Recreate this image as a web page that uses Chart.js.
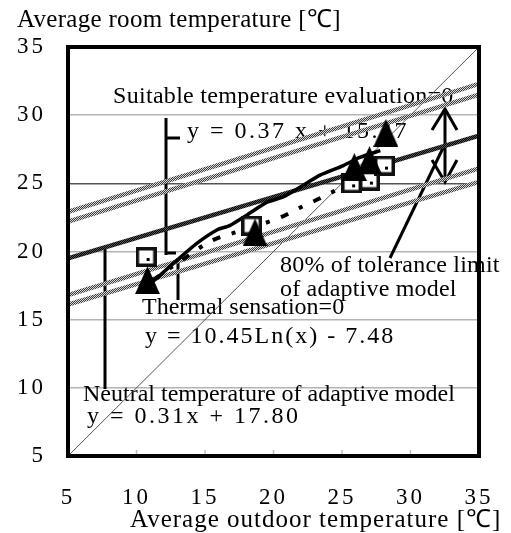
<!DOCTYPE html>
<html>
<head>
<meta charset="utf-8">
<script src="https://cdn.jsdelivr.net/npm/chart.js@4.4.1/dist/chart.umd.min.js"></script>
<style>
    html, body { margin: 0; padding: 0; background: #fff; }
</style>
</head>
<body>
<canvas id="myChart" width="511" height="533"></canvas>
<script>
// tick values on both axes
const xTicks = [5, 10, 15, 20, 25, 30, 35];
const yTicks = [5, 10, 15, 20, 25, 30, 35];

// reference lines
const diagonal = [[5, 5], [35, 35]];
const neutralLine = [[5, 19.5], [35, 28.5]];
const tolUpperOuter = [[5, 22.9], [35, 32.3]];
const tolUpperInner = [[5, 22.2], [35, 31.5]];
const tolLowerInner = [[5, 16.8], [35, 26.1]];
const tolLowerOuter = [[5, 16.1], [35, 25.1]];

// suitable temperature evaluation = 0 (solid curve)
const suitableX = [11.2, 13.0, 14.4, 15.9, 16.8, 18.1, 19.5, 20.7, 21.9, 23.4, 25.1, 26.3, 27.8];
const suitableY = [17.8, 19.4, 20.6, 21.6, 21.9, 22.7, 23.6, 24.0, 24.7, 25.6, 26.3, 26.9, 27.4];

// thermal sensation = 0 (dash-dot curve)
const thermalX = [11.2, 13.5, 15.5, 17.2, 20.5, 21.9, 23.6, 25.5];
const thermalY = [17.9, 19.5, 20.8, 21.4, 22.5, 23.2, 24.0, 25.0];

// markers
const squareX = [10.7, 18.4, 25.7, 27.0, 28.1];
const squareY = [19.6, 21.9, 25.0, 25.2, 26.3];
const triangleX = [10.8, 18.65, 25.9, 27.0, 28.2];
const triangleY = [17.9, 21.4, 26.2, 26.7, 28.7];

const pts = (a) => a.map((p) => ({ x: p[0], y: p[1] }));
const zip = (xs, ys) => xs.map((x, i) => ({ x: x, y: ys[i] }));

const FONT = "'Liberation Serif', 'Times New Roman', serif";

// hatched line pattern
function hatch(dark, light) {
    const c = document.createElement("canvas");
    c.width = 4;
    c.height = 4;
    const g = c.getContext("2d");
    g.fillStyle = light;
    g.fillRect(0, 0, 4, 4);
    g.fillStyle = dark;
    for (let i = 0; i < 4; i++) {
        g.fillRect(i, 3 - i, 1, 1);
        g.fillRect((i + 2) % 4, 3 - i, 1, 1);
    }
    return g.createPattern(c, "repeat");
}

// marker images
function squareMark() {
    const c = document.createElement("canvas");
    c.width = 21;
    c.height = 20;
    const g = c.getContext("2d");
    g.fillStyle = "#fff";
    g.fillRect(0, 0, 21, 20);
    g.strokeStyle = "#111";
    g.lineWidth = 3.5;
    g.strokeRect(1.75, 1.75, 17.5, 16.5);
    g.fillStyle = "#000";
    g.fillRect(11, 11, 3, 3);
    return c;
}

function triangleMark() {
    const c = document.createElement("canvas");
    c.width = 25;
    c.height = 28;
    const g = c.getContext("2d");
    g.fillStyle = "#000";
    g.beginPath();
    g.moveTo(12.5, 0);
    g.lineTo(25, 28);
    g.lineTo(0, 28);
    g.closePath();
    g.fill();
    return c;
}

// text annotations and leader lines, canvas pixels
const labels = [
    { text: "Average room temperature [\u2103]", x: 17, y: 20, size: 25, sp: 0.3 },
    { text: "Average outdoor temperature [\u2103]", x: 130, y: 520, size: 25, sp: 1 },
    { text: "Suitable temperature evaluation=0", x: 113, y: 97, size: 24, sp: 0.3 },
    { text: "y = 0.37 x + 15.47", x: 187, y: 132, size: 24, sp: 2.5 },
    { text: "80% of tolerance limit", x: 280, y: 266, size: 24, sp: 0.2 },
    { text: "of adaptive model", x: 280, y: 290, size: 24, sp: 0.2 },
    { text: "Thermal sensation=0", x: 142, y: 308, size: 24, sp: 0 },
    { text: "y = 10.45Ln(x) - 7.48", x: 145, y: 337, size: 24, sp: 2 },
    { text: "Neutral temperature of adaptive model", x: 83, y: 395, size: 24, sp: 0 },
    { text: "y = 0.31x + 17.80", x: 87, y: 417, size: 24, sp: 2.5 },
];

const leaders = [
    [[166, 118], [166, 255]],
    [[166, 138], [180, 138]],
    [[166, 253], [176, 253]],
    [[105, 248], [105, 389]],
    [[178, 258], [178, 300]],
    [[390, 258], [443, 148]],
    [[445, 109], [445, 182]],
    [[432, 130], [445, 109], [457, 130]],
    [[432, 160], [445, 182], [457, 160]],
];

const overlay = {
    id: "overlay",
    beforeDraw(chart) {
        chart.ctx.letterSpacing = "3px";
    },
    beforeDatasetsDraw(chart) {
        const ctx = chart.ctx;
        ctx.save();
        ctx.fillStyle = "#000";
        ctx.textBaseline = "middle";
        ctx.textAlign = "left";
        labels.forEach((l) => {
            ctx.font = l.size + "px " + FONT;
            ctx.letterSpacing = l.sp + "px";
            ctx.fillText(l.text, l.x, l.y);
        });
        ctx.letterSpacing = "0px";
        ctx.strokeStyle = "#000";
        ctx.lineWidth = 3;
        leaders.forEach((seg) => {
            ctx.beginPath();
            ctx.moveTo(seg[0][0], seg[0][1]);
            for (let i = 1; i < seg.length; i++) ctx.lineTo(seg[i][0], seg[i][1]);
            ctx.stroke();
        });
        ctx.restore();
    },
    afterDraw(chart) {
        const ctx = chart.ctx;
        const a = chart.chartArea;
        const xs = chart.scales.x;
        ctx.save();
        // small inner ticks on the x axis
        ctx.strokeStyle = "#bbb";
        ctx.lineWidth = 1.5;
        xTicks.slice(1, -1).forEach((v) => {
            const px = xs.getPixelForValue(v);
            ctx.beginPath();
            ctx.moveTo(px, a.bottom);
            ctx.lineTo(px, a.bottom - 6);
            ctx.stroke();
        });
        // plot frame
        ctx.strokeStyle = "#000";
        ctx.lineWidth = 4;
        ctx.strokeRect(a.left, a.top, a.right - a.left, a.bottom - a.top);
        ctx.restore();
    },
};

const ctx = document.getElementById("myChart").getContext("2d");
const hatchGray = hatch("#3c3c3c", "#d8d8d8");
const hatchDark = hatch("#000", "#555");

new Chart(ctx, {
    type: "scatter",
    data: {
        datasets: [
            {
                data: zip(triangleX, triangleY),
                pointStyle: triangleMark(),
                order: 0,
            },
            {
                data: zip(squareX, squareY),
                pointStyle: squareMark(),
                order: 1,
            },
            {
                data: zip(suitableX, suitableY),
                showLine: true,
                borderColor: "#000",
                borderWidth: 3.5,
                tension: 0.2,
                pointRadius: 0,
                order: 2,
            },
            {
                data: zip(thermalX, thermalY),
                showLine: true,
                borderColor: "#000",
                borderWidth: 4,
                borderDash: [8, 12, 4, 12],
                cubicInterpolationMode: "monotone",
                pointRadius: 0,
                order: 3,
            },
            {
                data: pts(neutralLine),
                showLine: true,
                borderColor: hatchDark,
                borderWidth: 4.5,
                pointRadius: 0,
                order: 4,
            },
            ...[tolUpperOuter, tolUpperInner, tolLowerInner, tolLowerOuter].map((l) => ({
                data: pts(l),
                showLine: true,
                borderColor: hatchGray,
                borderWidth: 4.5,
                pointRadius: 0,
                order: 5,
            })),
            {
                data: pts(diagonal),
                showLine: true,
                borderColor: "#555",
                borderWidth: 1,
                pointRadius: 0,
                order: 6,
            },
        ],
    },
    options: {
        responsive: false,
        animation: false,
        layout: { padding: { left: 0, top: 47, right: 32, bottom: 0 } },
        plugins: {
            legend: { display: false },
            tooltip: { enabled: false },
        },
        scales: {
            x: {
                min: 5,
                max: 35,
                afterFit: (s) => {
                    s.height = 77;
                    s.paddingLeft = 0;
                    s.paddingRight = 0;
                },
                afterBuildTicks: (s) => { s.ticks = xTicks.map((v) => ({ value: v })); },
                grid: { display: false },
                border: { display: false },
                ticks: {
                    color: "#000",
                    padding: 20,
                    font: { family: FONT, size: 23 },
                    maxRotation: 0,
                },
            },
            y: {
                min: 5,
                max: 35,
                afterFit: (s) => {
                    s.width = 68;
                    s.paddingTop = 0;
                    s.paddingBottom = 0;
                },
                afterBuildTicks: (s) => { s.ticks = yTicks.map((v) => ({ value: v })); },
                grid: {
                    drawTicks: false,
                    color: (c) => (c.tick && c.tick.value === 25 ? "#555" : "#b4b4b4"),
                    lineWidth: 1.5,
                },
                border: { display: false },
                ticks: {
                    color: "#000",
                    padding: 22,
                    font: { family: FONT, size: 23 },
                },
            },
        },
    },
    plugins: [overlay],
});
</script>
</body>
</html>
